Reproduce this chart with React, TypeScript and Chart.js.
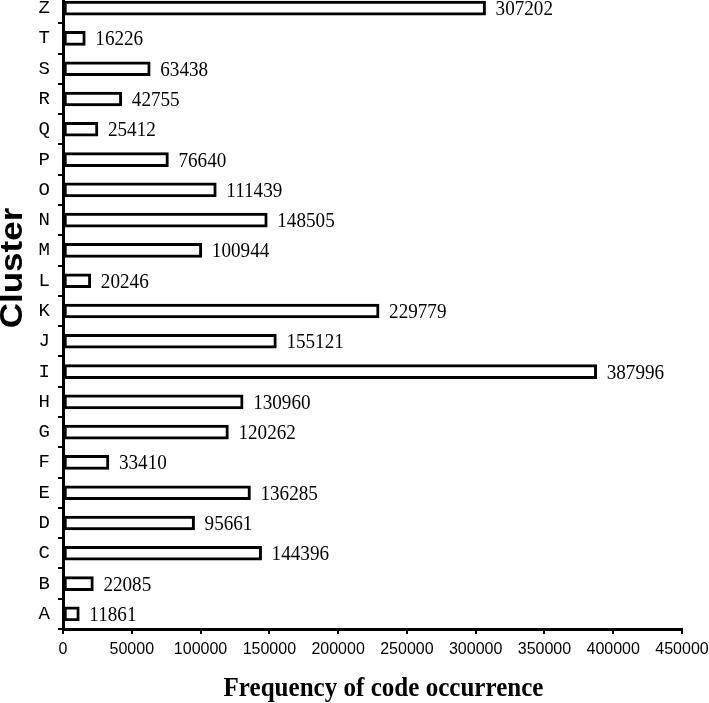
import React, { useEffect, useRef } from 'react';
import { Chart, registerables } from 'chart.js';

Chart.register(...registerables);

const clusters = ['A', 'B', 'C', 'D', 'E', 'F', 'G', 'H', 'I', 'J', 'K', 'L', 'M', 'N', 'O', 'P', 'Q', 'R', 'S', 'T', 'Z'];
const frequencies = [11861, 22085, 144396, 95661, 136285, 33410, 120262, 130960, 387996, 155121, 229779, 20246, 100944, 148505, 111439, 76640, 25412, 42755, 63438, 16226, 307202];
const xMin = 0;
const xMax = 450000;
const xStep = 50000;
const xTitle = 'Frequency of code occurrence';
const yTitle = 'Cluster';

export default function App() {
  const ref = useRef<HTMLCanvasElement>(null);

  useEffect(() => {
    if (!ref.current) return;

    const textPlugin = {
      id: 'customText',
      afterDatasetsDraw(chart: any) {
        const ctx = chart.ctx as CanvasRenderingContext2D;
        const meta = chart.getDatasetMeta(0);
        ctx.save();
        ctx.fillStyle = '#000';
        ctx.font = '22px "Liberation Serif"';
        ctx.textAlign = 'left';
        ctx.textBaseline = 'alphabetic';
        meta.data.forEach((bar: any, i: number) => {
          ctx.save();
          ctx.translate(bar.x + 10, bar.y + 7);
          ctx.scale(0.87, 1);
          ctx.fillText(String(frequencies[i]), 0, 0);
          ctx.restore();
        });

        const area = chart.chartArea;
        // x title
        ctx.save();
        ctx.font = 'bold 28px "Liberation Serif"';
        ctx.textAlign = 'center';
        ctx.translate((area.left + area.right) / 2 + 11, 703);
        ctx.scale(0.895, 1);
        ctx.fillText(xTitle, 0, 0);
        ctx.restore();

        // y title
        ctx.save();
        ctx.font = 'bold 35px "Liberation Sans"';
        ctx.textAlign = 'center';
        ctx.translate(22, 275);
        ctx.rotate(-Math.PI / 2);
        ctx.scale(1, 0.87);
        ctx.fillText(yTitle, 0, 0);
        ctx.restore();

        ctx.restore();
      },
    };

    const chart = new Chart(ref.current, {
      type: 'bar',
      data: {
        labels: clusters,
        datasets: [
          {
            data: frequencies,
            backgroundColor: '#ffffff',
            borderColor: '#000000',
            borderWidth: 3,
            borderSkipped: false,
            barThickness: 14,
          },
        ],
      },
      options: {
        indexAxis: 'y',
        responsive: false,
        animation: false,
        devicePixelRatio: 1,
        layout: { padding: { top: 0, right: 27, bottom: 0, left: 0 } },
        plugins: {
          legend: { display: false },
          tooltip: { enabled: false },
          title: { display: false },
        },
        scales: {
          x: {
            type: 'linear',
            min: xMin,
            max: xMax,
            afterFit: (s: any) => {
              s.height = 74;
              s.paddingLeft = 0;
              s.paddingRight = 0;
            },
            ticks: {
              stepSize: xStep,
              color: '#000',
              font: { family: '"Liberation Sans"', size: 16 },
              padding: 6,
              maxRotation: 0,
              callback: (v: any) => String(v),
            },
            grid: {
              drawOnChartArea: false,
              drawTicks: true,
              tickLength: 5,
              color: '#000',
              lineWidth: 2,
            },
            border: { display: true, color: '#000', width: 3 },
          },
          y: {
            type: 'category',
            reverse: true,
            offset: true,
            afterFit: (s: any) => {
              s.width = 63;
              s.paddingTop = 0;
              s.paddingBottom = 0;
            },
            ticks: {
              color: '#000',
              font: { family: '"Liberation Mono"', size: 19 },
              padding: 8,
              autoSkip: false,
            },
            grid: {
              offset: true,
              drawOnChartArea: false,
              drawTicks: true,
              tickLength: 5,
              color: '#000',
              lineWidth: 2,
            },
            border: { display: true, color: '#000', width: 3 },
          },
        },
      },
      plugins: [textPlugin],
    } as any);

    return () => chart.destroy();
  }, []);

  return (
    <canvas
      ref={ref}
      width={709}
      height={710}
      style={{ position: 'absolute', left: 0, top: -7, width: 709, height: 710, display: 'block' }}
    />
  );
}
